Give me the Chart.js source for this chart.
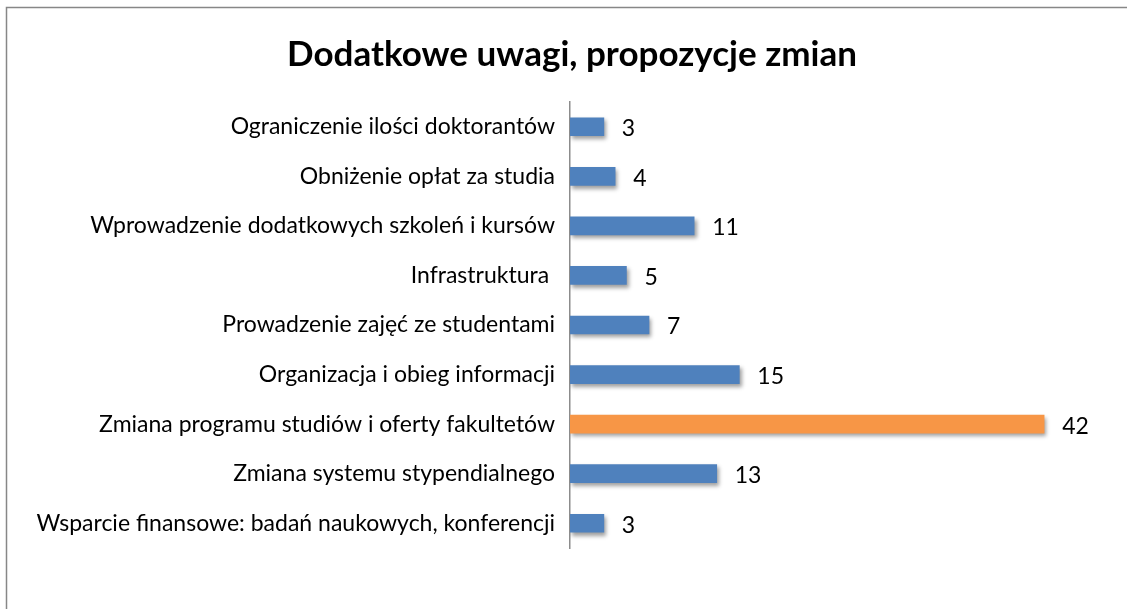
<!DOCTYPE html>
<html>
<head>
<meta charset="utf-8">
<script src="https://cdn.jsdelivr.net/npm/chart.js@4/dist/chart.umd.min.js"></script>
<style>
  html, body { margin: 0; padding: 0; background: #fff; }
  #wrap { width: 1127px; height: 609px; position: relative; }
</style>
</head>
<body>
<div id="wrap"><canvas id="chart" width="1127" height="609"></canvas></div>
<script>
// Chart data
const chartTitle = 'Dodatkowe uwagi, propozycje zmian';
const categories = [
  'Ograniczenie ilości doktorantów',
  'Obniżenie opłat za studia',
  'Wprowadzenie dodatkowych szkoleń i kursów',
  'Infrastruktura ',
  'Prowadzenie zajęć ze studentami',
  'Organizacja i obieg informacji',
  'Zmiana programu studiów i oferty fakultetów',
  'Zmiana systemu stypendialnego',
  'Wsparcie finansowe: badań naukowych, konferencji'
];
const counts = [3, 4, 11, 5, 7, 15, 42, 13, 3];
const axisMax = 45;

const blue = '#4F81BD';
const orange = '#F79646';
const topIndex = counts.indexOf(Math.max(...counts));
const barColors = counts.map((v, i) => i === topIndex ? orange : blue);

// frame around the whole chart + title (Excel centres it a bit right of the canvas middle)
const framePlugin = {
  id: 'frame',
  beforeDraw(chart) {
    const ctx = chart.ctx;
    ctx.save();
    ctx.fillStyle = '#fff';
    ctx.fillRect(0, 0, chart.width, chart.height);
    ctx.strokeStyle = '#878787';
    ctx.lineWidth = 1.5;
    ctx.strokeRect(6.5, 7.5, chart.width + 10, chart.height + 10);
    ctx.font = 'bold 35px Lato';
    ctx.fillStyle = '#000';
    ctx.textAlign = 'center';
    ctx.textBaseline = 'middle';
    ctx.fillText(chartTitle, 572, 55);
    ctx.restore();
  }
};

// soft drop shadow under the bars
const shadowPlugin = {
  id: 'barShadow',
  beforeDatasetDraw(chart) {
    const ctx = chart.ctx;
    ctx.save();
    ctx.shadowColor = 'rgba(0,0,0,0.38)';
    ctx.shadowBlur = 4;
    ctx.shadowOffsetX = 2;
    ctx.shadowOffsetY = 3;
  },
  afterDatasetDraw(chart) {
    chart.ctx.restore();
  }
};

// value labels to the right of each bar
const valueLabels = {
  id: 'valueLabels',
  afterDatasetsDraw(chart) {
    const ctx = chart.ctx;
    const meta = chart.getDatasetMeta(0);
    ctx.save();
    ctx.font = '23px Lato';
    ctx.fillStyle = '#000';
    ctx.textAlign = 'left';
    ctx.textBaseline = 'middle';
    meta.data.forEach((bar, i) => {
      ctx.fillText(String(counts[i]), bar.x + 18, bar.y + 2);
    });
    ctx.restore();
  }
};

new Chart(document.getElementById('chart').getContext('2d'), {
  type: 'bar',
  data: {
    labels: categories,
    datasets: [{
      data: counts,
      backgroundColor: barColors,
      borderWidth: 0,
      barThickness: 18
    }]
  },
  options: {
    indexAxis: 'y',
    responsive: false,
    animation: false,
    layout: { padding: { left: 0, right: 49, top: 102, bottom: 61 } },
    plugins: {
      legend: { display: false },
      tooltip: { enabled: false },
      title: { display: false }
    },
    scales: {
      x: {
        display: false,
        min: 0,
        max: axisMax
      },
      y: {
        grid: { display: false },
        border: { display: true, color: '#8c8c8c', width: 1.5 },
        ticks: {
          color: '#000',
          padding: 7,
          autoSkip: false,
          font: { family: 'Lato', size: 23 }
        },
        afterFit(scale) { scale.width = 570; }
      }
    }
  },
  plugins: [framePlugin, shadowPlugin, valueLabels]
});
</script>
</body>
</html>
